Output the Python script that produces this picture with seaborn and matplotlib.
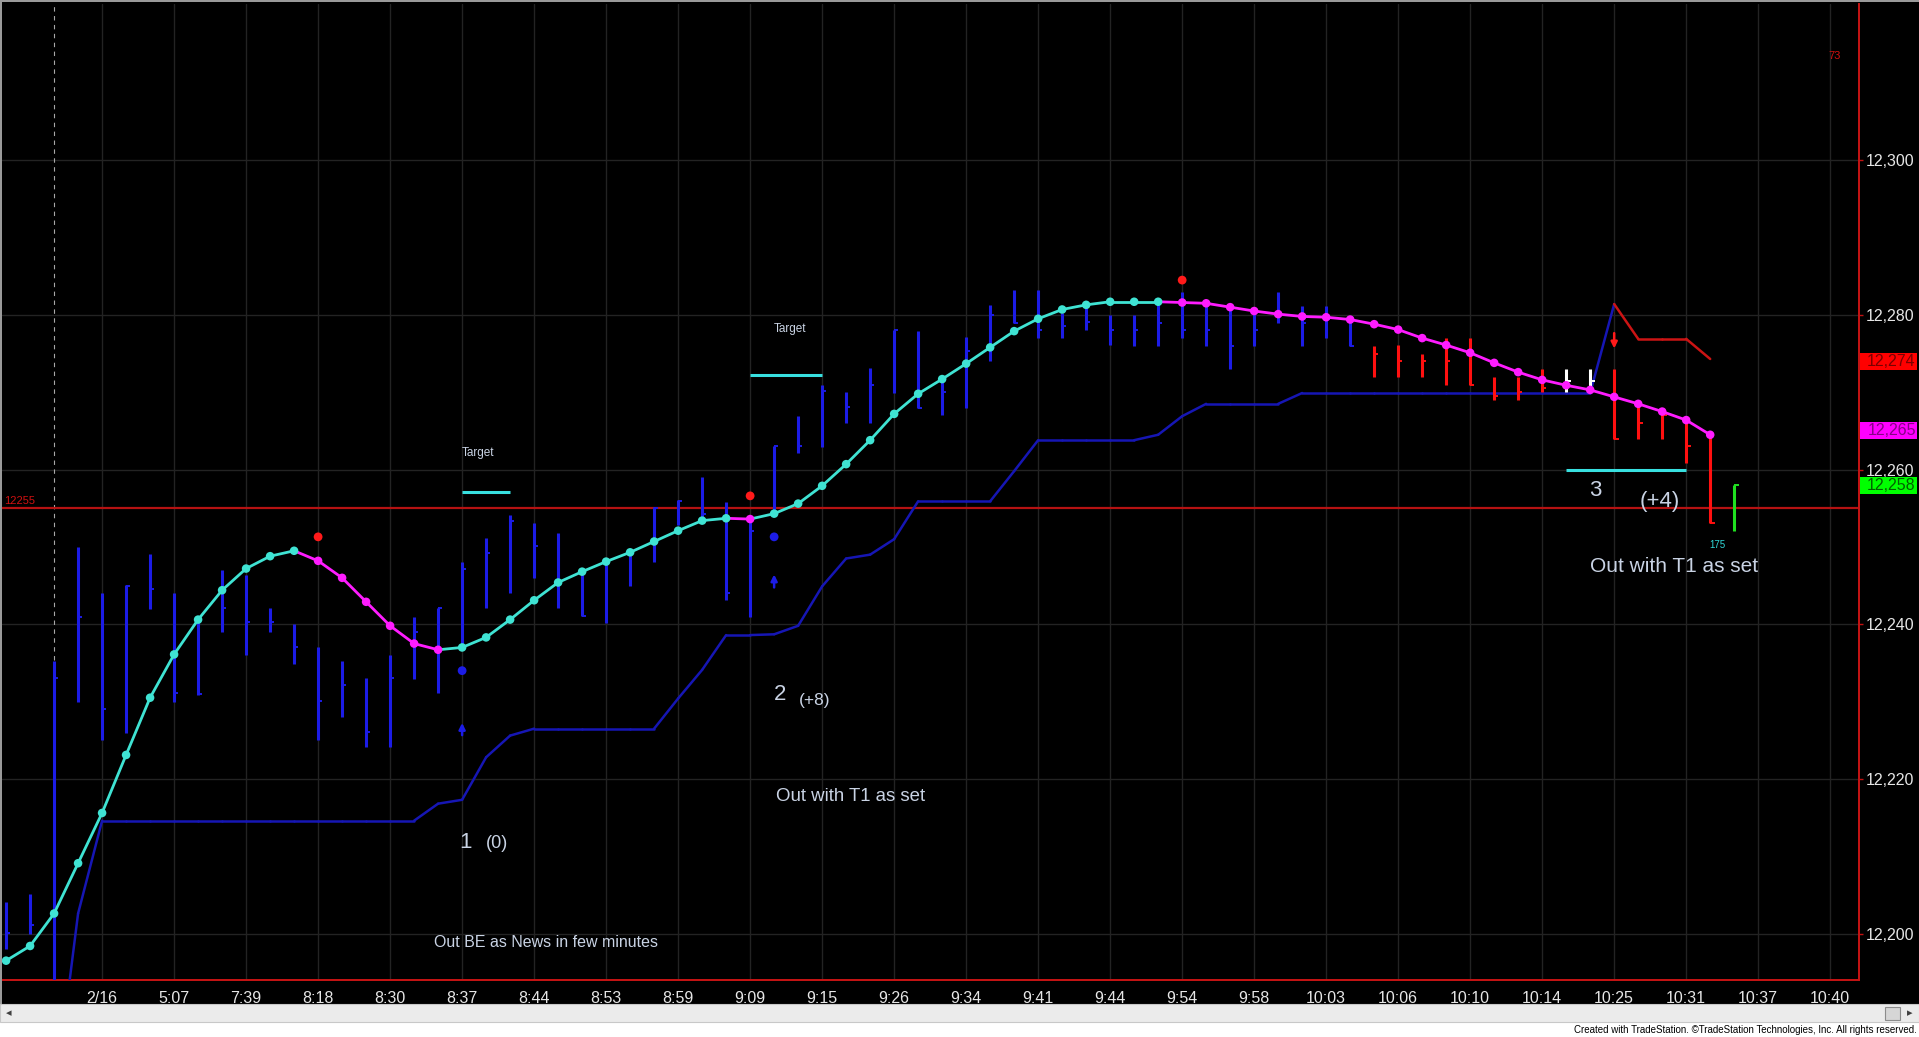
import numpy as np
import pandas as pd
import matplotlib
matplotlib.use("Agg")
import matplotlib.pyplot as plt
import seaborn as sns
from matplotlib.patches import Rectangle
from matplotlib import transforms

# ---- data (bar index 0 .. 72) ----
time_labels = ["2/16", "5:07", "7:39", "8:18", "8:30", "8:37", "8:44", "8:53", "8:59",
               "9:09", "9:15", "9:26", "9:34", "9:41", "9:44", "9:54", "9:58", "10:03",
               "10:06", "10:10", "10:14", "10:25", "10:31", "10:37", "10:40"]

bar_high = [12204.1, 12205.1, 12235.2, 12250.0, 12244.1, 12245.1, 12249.1, 12244.1, 12240.6, 12247.0,
            12246.4, 12242.1, 12240.0, 12237.1, 12235.2, 12233.0, 12236.0, 12241.0, 12242.1, 12248.1,
            12251.1, 12254.1, 12253.1, 12251.8, 12247.0, 12248.3, 12249.7, 12255.1, 12256.1, 12259.0,
            12255.8, 12253.3, 12263.0, 12266.9, 12271.0, 12270.0, 12273.1, 12278.1, 12277.9, 12272.0,
            12277.2, 12281.3, 12283.2, 12283.2, 12280.2, 12281.5, 12280.0, 12280.0, 12281.5, 12283.0,
            12281.5, 12281.1, 12280.4, 12283.0, 12281.1, 12281.1, 12279.6, 12276.0, 12276.1, 12275.0,
            12277.0, 12277.0, 12272.0, 12272.0, 12273.0, 12273.0, 12273.0, 12273.0, 12268.5, 12268.0,
            12266.9, 12264.5, 12258.0]
bar_low = [12198.0, 12200.0, 12188.0, 12230.0, 12225.0, 12225.9, 12242.0, 12230.0, 12230.9, 12239.0,
           12236.0, 12239.0, 12234.9, 12225.0, 12228.0, 12224.1, 12224.1, 12232.9, 12231.1, 12237.1,
           12242.1, 12244.0, 12246.0, 12242.1, 12241.1, 12240.1, 12244.9, 12248.1, 12252.8, 12253.9,
           12243.1, 12241.0, 12254.1, 12262.1, 12262.9, 12266.0, 12266.0, 12269.9, 12267.9, 12267.1,
           12267.9, 12274.0, 12279.0, 12277.0, 12277.0, 12278.0, 12276.1, 12276.0, 12276.0, 12277.0,
           12276.0, 12273.0, 12276.0, 12279.0, 12276.0, 12277.0, 12276.0, 12272.0, 12272.0, 12272.0,
           12271.0, 12271.0, 12269.0, 12269.0, 12270.0, 12270.0, 12270.0, 12263.9, 12263.9, 12263.9,
           12260.8, 12253.1, 12252.0]
bar_close = [12200.1, 12201.1, 12233.0, 12241.0, 12229.1, 12245.0, 12244.5, 12231.1, 12231.0, 12242.1,
             12240.3, 12240.3, 12237.1, 12230.1, 12232.1, 12226.1, 12233.0, 12239.0, 12242.1, 12247.2,
             12249.2, 12253.3, 12250.1, 12245.3, 12241.1, 12248.0, 12249.2, 12255.0, 12256.0, 12254.2,
             12244.0, 12252.0, 12263.0, 12263.0, 12270.1, 12268.1, 12271.0, 12278.0, 12268.0, 12270.0,
             12275.3, 12280.0, 12279.0, 12278.1, 12278.5, 12279.1, 12278.0, 12278.0, 12279.0, 12278.1,
             12278.0, 12276.0, 12278.0, 12280.0, 12279.0, 12279.5, 12276.0, 12275.0, 12274.0, 12274.0,
             12274.0, 12271.0, 12269.5, 12270.0, 12270.5, 12271.5, 12271.5, 12263.9, 12266.0, 12267.0,
             12263.0, 12253.1, 12258.0]
bar_kind = ["blue"] * 57 + ["red"] * 8 + ["white"] * 2 + ["red"] * 5 + ["green"]

smooth = [12196.5, 12198.4, 12202.6, 12209.1, 12215.6, 12223.1, 12230.5, 12236.1, 12240.6, 12244.4,
          12247.2, 12248.8, 12249.5, 12248.2, 12246.0, 12242.9, 12239.8, 12237.5, 12236.7, 12237.0,
          12238.3, 12240.6, 12243.1, 12245.4, 12246.8, 12248.1, 12249.3, 12250.7, 12252.1, 12253.4,
          12253.7, 12253.6, 12254.3, 12255.6, 12257.9, 12260.7, 12263.8, 12267.2, 12269.8, 12271.7,
          12273.7, 12275.8, 12277.9, 12279.5, 12280.7, 12281.3, 12281.7, 12281.7, 12281.7, 12281.6,
          12281.5, 12281.0, 12280.5, 12280.1, 12279.8, 12279.7, 12279.4, 12278.8, 12278.1, 12277.0,
          12276.1, 12275.1, 12273.8, 12272.6, 12271.6, 12270.9, 12270.3, 12269.4, 12268.5, 12267.5,
          12266.4, 12264.5]
trend = ["up"] * 13 + ["down"] * 6 + ["up"] * 12 + ["down"] + ["up"] * 17 + ["down"] * 23

# trailing stop, starts at bar 2
stop = [12178.0, 12202.6, 12214.6, 12214.6, 12214.6, 12214.6, 12214.6, 12214.6, 12214.6, 12214.6,
        12214.6, 12214.6, 12214.6, 12214.6, 12214.6, 12214.6, 12216.8, 12217.3, 12222.8, 12225.6,
        12226.5, 12226.5, 12226.5, 12226.5, 12226.5, 12226.5, 12230.4, 12234.1, 12238.6, 12238.6,
        12238.7, 12239.8, 12244.9, 12248.5, 12249.0, 12251.0, 12255.9, 12255.9, 12255.9, 12255.9,
        12259.8, 12263.8, 12263.8, 12263.8, 12263.8, 12263.8, 12264.5, 12266.9, 12268.5, 12268.5,
        12268.5, 12268.5, 12269.9, 12269.9, 12269.9, 12269.9, 12269.9, 12269.9, 12269.9, 12269.9,
        12269.9, 12269.9, 12269.9, 12269.9, 12269.9, 12281.4, 12276.9, 12276.9, 12276.9, 12274.3]
stop_side = ["long"] * 66 + ["short"] * 4

# target lines: (first bar, last bar, price)
target_start = [19, 31, 65]
target_end = [21, 34, 70]
target_price = [12257.1, 12272.2, 12259.9]

red_dot_bar = [13, 31, 49]
red_dot_price = [12251.3, 12256.6, 12284.5]
blue_dot_bar = [19, 32]
blue_dot_price = [12234.0, 12251.3]

# last-value boxes on the price scale
box_value = [12274, 12265, 12258]
box_fill = ["#ff0000", "#ff00ff", "#00ff00"]
box_text = ["#7a0000", "#880088", "#006000"]

BG = "#000000"
CYAN = "#3fe3d3"
MAGENTA = "#ff1cff"
BAR_COLORS = {"blue": "#1c1ce6", "red": "#ff1010", "white": "#ffffff", "green": "#20e020"}
TXT = "#c9d3e4"

sns.set_style("dark", {"axes.facecolor": BG, "figure.facecolor": BG})
plt.rcParams["font.family"] = ["Liberation Sans", "DejaVu Sans"]

fig = plt.figure(figsize=(19.19, 10.37), dpi=100)
ax = fig.add_axes([2 / 1919, 57 / 1037, 1857 / 1919, 976 / 1037])
ax.set_facecolor(BG)

bars = np.arange(len(bar_high))

# grid
for yv in range(12200, 12320, 20):
    ax.axhline(yv, color="#232323", lw=1, zorder=0)
label_pos = 4 + 3 * np.arange(len(time_labels))
for xv in label_pos:
    ax.axvline(xv, color="#232323", lw=1, zorder=0)
ax.axvline(2, color="#a8a8a8", lw=0.8, ls=(0, (4, 4)), zorder=1)

# reference line
ax.axhline(12255, color="#b51212", lw=1.6, zorder=2)

# trailing stop
stop_bars = np.arange(2, 2 + len(stop))
seg_rows = []
for k in range(1, len(stop)):
    for j in (k - 1, k):
        seg_rows.append({"seg": k, "bar": stop_bars[j], "price": stop[j], "side": stop_side[k]})
stop_df = pd.DataFrame(seg_rows)
sns.lineplot(data=stop_df, x="bar", y="price", hue="side", units="seg", estimator=None,
             sort=False, palette={"long": "#1616b4", "short": "#cc1414"}, lw=1.8,
             legend=False, ax=ax, zorder=3)

# price bars
colors = [BAR_COLORS[c] for c in bar_kind]
ax.vlines(bars, bar_low, bar_high, colors=colors, lw=2.2, zorder=4)
ax.hlines(bar_close, bars, bars + 0.18, colors=colors, lw=1.4, zorder=4)

# smoothed line, segment colour follows the end point
seg_rows = []
for k in range(1, len(smooth)):
    for j in (k - 1, k):
        seg_rows.append({"seg": k, "bar": j, "price": smooth[j], "trend": trend[k]})
smooth_df = pd.DataFrame(seg_rows)
pal = {"up": CYAN, "down": MAGENTA}
sns.lineplot(data=smooth_df, x="bar", y="price", hue="trend", units="seg", estimator=None,
             sort=False, palette=pal, lw=2, legend=False, ax=ax, zorder=5)
sns.scatterplot(x=np.arange(len(smooth)), y=smooth, hue=trend, palette=pal, s=38,
                edgecolor="none", legend=False, ax=ax, zorder=6)

# targets
ax.hlines(target_price, target_start, target_end, colors="#38e0e0", lw=2.2, zorder=5)

# markers
sns.scatterplot(x=red_dot_bar, y=red_dot_price, color="#ff1a1a", s=40, edgecolor="none", ax=ax, zorder=6)
sns.scatterplot(x=blue_dot_bar, y=blue_dot_price, color="#1c1ce6", s=40, edgecolor="none", ax=ax, zorder=6)
for b, lo, hi in [(19, 12225.3, 12227.6), (32, 12244.4, 12246.8)]:
    ax.annotate("", xy=(b, hi), xytext=(b, lo),
                arrowprops=dict(arrowstyle="-|>", color="#1c1ce6", lw=1.8, mutation_scale=9), zorder=6)
ax.annotate("", xy=(67, 12275.3), xytext=(67, 12278.0),
            arrowprops=dict(arrowstyle="-|>", color="#ff1a1a", lw=1.8, mutation_scale=9), zorder=6)

# axes
ax.set_xlim(-0.17, 77.2)
ax.set_ylim(12194.0, 12320.2)
ax.set_xticks(label_pos)
ax.set_xticklabels(time_labels)
yt = list(range(12200, 12320, 20))
ax.set_yticks(yt)
ax.set_yticklabels([f"{v:,}" for v in yt])
ax.yaxis.tick_right()
ax.tick_params(axis="both", colors="#c01010", labelcolor="#e6e6e6", labelsize=11.5, length=3, width=1)
ax.tick_params(axis="x", pad=5)
ax.tick_params(axis="y", pad=2)
ax.set_xlabel("")
ax.set_ylabel("")
for side in ("left", "top"):
    ax.spines[side].set_visible(False)
for side in ("bottom", "right"):
    ax.spines[side].set_color("#c81414")
    ax.spines[side].set_linewidth(1.4)
ax.grid(False)

# price boxes on the right axis
trans = transforms.blended_transform_factory(ax.transAxes, ax.transData)
box_w = 57 / 1857
box_h = 17 / 7.73
for val, fc, tc in zip(box_value, box_fill, box_text):
    ax.add_patch(Rectangle((1.0004, val - box_h / 2), box_w, box_h, transform=trans,
                           fc=fc, ec="none", clip_on=False, zorder=9))
    ax.text(1.0004 + box_w - 0.0005, val, f"{val:,}", transform=trans, ha="right", va="center",
            fontsize=11.5, color=tc, clip_on=False, zorder=10)

# annotations
ann = dict(color=TXT)
ax.text(19, 12262.2, "Target", fontsize=8.5, ha="left", va="center", **ann)
ax.text(32, 12278.2, "Target", fontsize=8.5, ha="left", va="center", **ann)
ax.text(19.15, 12211.8, "1", fontsize=16, ha="center", va="center", **ann)
ax.text(20.45, 12211.7, "(0)", fontsize=13, ha="center", va="center", **ann)
ax.text(22.5, 12198.9, "Out BE as News in few minutes", fontsize=11.5, ha="center", va="center", **ann)
ax.text(32.25, 12230.9, "2", fontsize=16, ha="center", va="center", **ann)
ax.text(33.7, 12230.1, "(+8)", fontsize=12.5, ha="center", va="center", **ann)
ax.text(35.2, 12217.7, "Out with T1 as set", fontsize=13.4, ha="center", va="center", **ann)
ax.text(66.2, 12257.3, "3", fontsize=16, ha="center", va="center", **ann)
ax.text(68.9, 12255.9, "(+4)", fontsize=16, ha="center", va="center", **ann)
ax.text(71.3, 12250.3, "175", fontsize=7, ha="center", va="center", color="#30d8d8")
ax.text(69.5, 12247.5, "Out with T1 as set", fontsize=15, ha="center", va="center", **ann)
ax.text(-0.1, 12256.0, "12255", fontsize=8, ha="left", va="center", color="#d01010")
ax.text(76.2, 12313.5, "73", fontsize=8, ha="center", va="center", color="#d01010")

# window chrome: borders, scrollbar, footer
fig.patches.append(Rectangle((0, 0), 2 / 1919, 1, transform=fig.transFigure, fc="#9a9a9a", ec="none"))
fig.patches.append(Rectangle((0, 1 - 2 / 1037), 1, 2 / 1037, transform=fig.transFigure, fc="#9a9a9a", ec="none"))
fig.patches.append(Rectangle((0, 0), 1, 1 - 1022 / 1037, transform=fig.transFigure, fc="#ffffff", ec="none"))
fig.patches.append(Rectangle((0, 1 - 1022 / 1037), 1, 18 / 1037, transform=fig.transFigure,
                             fc="#ebebeb", ec="#c8c8c8", lw=0.8))
fig.patches.append(Rectangle((1885 / 1919, 1 - 1020 / 1037), 15 / 1919, 13 / 1037, transform=fig.transFigure,
                             fc="#d6d6d6", ec="#8c8c8c", lw=0.8))
fig.text(9 / 1919, 1 - 1013 / 1037, "◂", fontsize=8, color="#404040", ha="center", va="center",
         family="DejaVu Sans")
fig.text(1910 / 1919, 1 - 1013 / 1037, "▸", fontsize=8, color="#404040", ha="center", va="center",
         family="DejaVu Sans")
fig.text(1917 / 1919, 1 - 1030 / 1037,
         "Created with TradeStation. \u00a9TradeStation Technologies, Inc. All rights reserved.",
         fontsize=7, color="#000000", ha="right", va="center")

fig.savefig("out.png", dpi=100, facecolor=BG)
